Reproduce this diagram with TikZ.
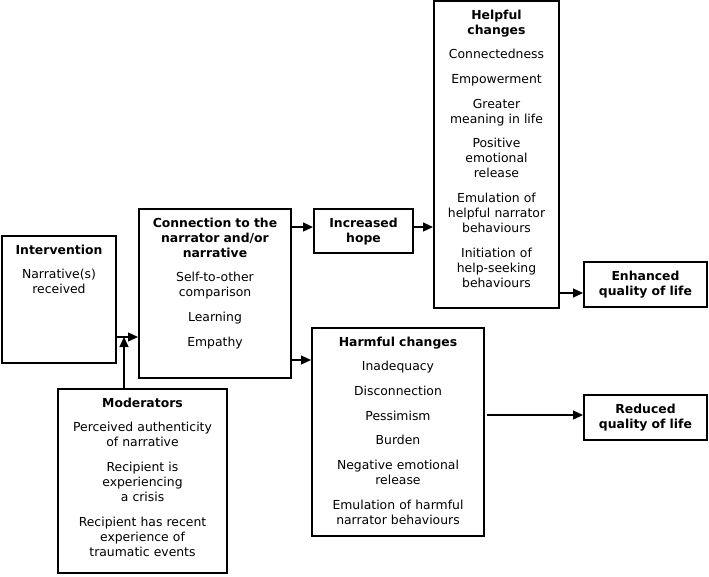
\documentclass[tikz,border=0pt]{standalone}
\usepackage{fontspec}
\setmainfont{DejaVu Sans}
\usetikzlibrary{arrows.meta,positioning}

\def\itemgap{\\[9.7pt]}

\tikzset{
  box/.style={draw, line width=2pt, inner sep=0pt},
  boxtext/.style={anchor=base, inner sep=0pt, align=center,
    font=\fontsize{12.4}{15}\selectfont},
  arr/.style={-{Triangle[length=10pt,width=9pt]}, line width=1.3pt},
}

\begin{document}
\begin{tikzpicture}[x=1pt, y=-1pt]
      \useasboundingbox (0,0) rectangle (709,576);

      % boxes
      \node[box, minimum width=114pt, minimum height=127pt] (interv) at (59,299.5) {};
      \node[box, minimum width=152pt, minimum height=169pt] (conn) at (215,293.5) {};
      \node[box, minimum width=169pt, minimum height=184pt] (moder) at (142.5,481) {};
      \node[box, minimum width=99pt, minimum height=44pt] (hope) at (363.5,231) {};
      \node[box, minimum width=125pt, minimum height=307pt] (helpful) at (496.5,154.5) {};
      \node[box, minimum width=123pt, minimum height=45pt] (enhanced) at (645.5,284.5) {};
      \node[box, minimum width=172pt, minimum height=208pt] (harmful) at (398,432) {};
      \node[box, minimum width=123pt, minimum height=45pt] (reduced) at (645.5,417.5) {};

      % texts
      \node[boxtext, text width=110pt] (intervtext) at ([yshift=-19pt]interv.north)
        {\textbf{Intervention}\itemgap Narrative(s)\\ received};
      \node[boxtext, text width=148pt] (conntext) at ([yshift=-19pt]conn.north)
        {\textbf{Connection to the}\\ \textbf{narrator and/or}\\ \textbf{narrative}\itemgap
         Self-to-other\\ comparison\itemgap Learning\itemgap Empathy};
      \node[boxtext, text width=165pt] (modertext) at ([yshift=-19pt]moder.north)
        {\textbf{Moderators}\itemgap Perceived authenticity\\ of narrative\itemgap
         Recipient is\\ experiencing\\ a crisis\itemgap
         Recipient has recent\\ experience of\\ traumatic events};
      \node[boxtext, text width=95pt] (hopetext) at ([yshift=-19pt]hope.north)
        {\textbf{Increased}\\ \textbf{hope}};
      \node[boxtext, text width=121pt] (helpfultext) at ([yshift=-19pt]helpful.north)
        {\textbf{Helpful}\\ \textbf{changes}\itemgap Connectedness\itemgap Empowerment\itemgap
         Greater\\ meaning in life\itemgap Positive\\ emotional\\ release\itemgap
         Emulation of\\ helpful narrator\\ behaviours\itemgap
         Initiation of\\ help-seeking\\ behaviours};
      \node[boxtext, text width=119pt] (enhancedtext) at ([yshift=-19pt]enhanced.north)
        {\textbf{Enhanced}\\ \textbf{quality of life}};
      \node[boxtext, text width=168pt] (harmfultext) at ([yshift=-19pt]harmful.north)
        {\textbf{Harmful changes}\itemgap Inadequacy\itemgap Disconnection\itemgap
         Pessimism\itemgap Burden\itemgap Negative emotional\\ release\itemgap
         Emulation of harmful\\ narrator behaviours};
      \node[boxtext, text width=119pt] (reducedtext) at ([yshift=-19pt]reduced.north)
        {\textbf{Reduced}\\ \textbf{quality of life}};

      % connectors
      \coordinate (join) at (124,337);
      \coordinate (upper) at (300,227);
      \coordinate (lower) at (300,360);
      \coordinate (better) at (570,293);
      \coordinate (worse) at (487,415);

      \draw[arr] (interv.east |- join) -- (conn.west |- join);
      \draw[arr] (moder.north -| join) -- (join);
      \draw[arr] (conn.east |- upper) -- (hope.west |- upper);
      \draw[arr] (hope.east |- upper) -- (helpful.west |- upper);
      \draw[arr] (conn.east |- lower) -- (harmful.west |- lower);
      \draw[arr] (helpful.east |- better) -- (enhanced.west |- better);
      \draw[arr] (worse) -- (reduced.west |- worse);
\end{tikzpicture}
\end{document}
